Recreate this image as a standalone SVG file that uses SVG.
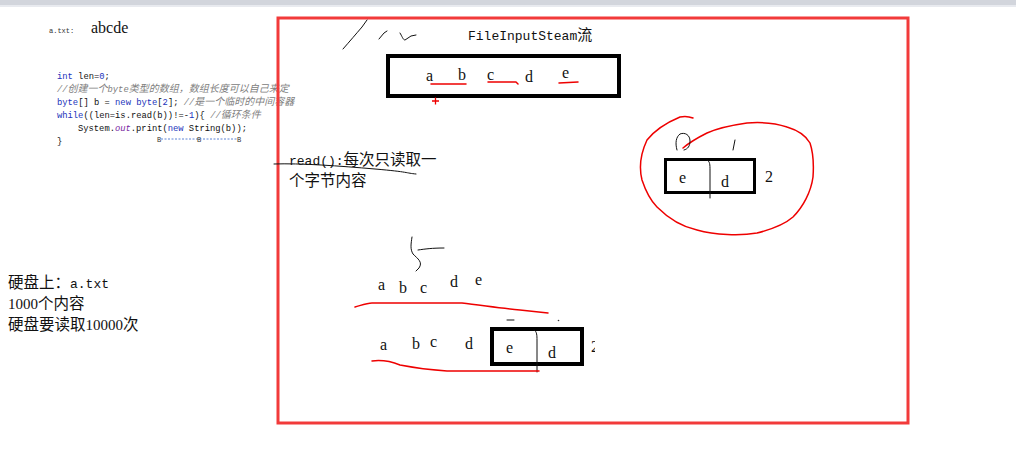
<svg xmlns="http://www.w3.org/2000/svg" width="1016" height="458" viewBox="0 0 1016 458">
<style>
.code{font-family:"Liberation Mono","Noto Sans CJK SC",monospace;font-size:8.8px;fill:#111}
.zh{font-family:"Noto Sans CJK SC",sans-serif;font-size:10px}
.kw{fill:#2233bb}
.cm{fill:#808080;font-style:italic}
.out{fill:#7a1fa2;font-style:italic}
.ser{font-family:"Liberation Serif","Noto Sans CJK SC",serif;font-size:16px;fill:#111}
.cjk{font-family:"Noto Sans CJK SC",sans-serif;font-size:15.5px;fill:#111}
.asc{font-family:"Liberation Mono",monospace;font-size:13px}
.dig{font-family:"Liberation Serif",serif;font-size:15px}
.pen{fill:none;stroke:#111;stroke-width:1;stroke-linecap:round;stroke-linejoin:round}
.red{fill:none;stroke:#e00;stroke-width:1.5;stroke-linecap:round;stroke-linejoin:round}
.box{fill:none;stroke:#000;stroke-width:4}
.bm{font-family:"Liberation Mono",monospace;font-size:7px;fill:#333}
</style>
<defs>
<clipPath id="cut"><rect x="0" y="0" width="595" height="458"/></clipPath>
</defs>
<rect x="0" y="0" width="1016" height="458" fill="#fff"/>
<rect x="0" y="0" width="1016" height="5" fill="#d2d5dc"/>
<rect x="0" y="5" width="1016" height="2" fill="#e8eaef"/>

<g id="code-panel">
<text x="49" y="33" class="bm" fill="#222">a.txt:</text>
<text x="91" y="33" class="ser">abcde</text>
<text class="code" x="57" y="79"><tspan class="kw">int</tspan> len=<tspan class="kw">0</tspan>;</text>
<text class="code cm" x="57" y="92">//<tspan class="zh">创建一个</tspan>byte<tspan class="zh">类型的数组，数组长度可以自己来定</tspan></text>
<text class="code" x="57" y="105"><tspan class="kw">byte</tspan>[] b = <tspan class="kw">new</tspan> <tspan class="kw">byte</tspan>[<tspan class="kw">2</tspan>];  <tspan class="cm">//<tspan class="zh">是一个临时的中间容器</tspan></tspan></text>
<text class="code" x="57" y="118"><tspan class="kw">while</tspan>((len=is.read(b))!=-<tspan class="kw">1</tspan>){  <tspan class="cm">//<tspan class="zh">循环条件</tspan></tspan></text>
<text class="code" x="78" y="131">System.<tspan class="out">out</tspan>.print(<tspan class="kw">new</tspan> String(b));</text>
<text class="code" x="57" y="144">}</text>
<g id="bline">
<line x1="161" y1="139" x2="238" y2="139" stroke="#3366cc" stroke-width="0.8" stroke-dasharray="2,1.5"/>
<text x="157" y="142" class="bm">B</text>
<text x="197" y="142" class="bm">B</text>
<text x="237" y="142" class="bm">B</text>
</g>
</g>

<g id="disk-note">
<text class="cjk" x="8" y="288">硬盘上：<tspan class="asc">a.txt</tspan></text>
<text class="cjk" x="8" y="309"><tspan class="dig">1000</tspan>个内容</text>
<text class="cjk" x="8" y="330">硬盘要读取<tspan class="dig">10000</tspan>次</text>
</g>

<g id="frame">
<rect x="278" y="18" width="630" height="405" fill="none" stroke="#f23a3a" stroke-width="3"/>
</g>

<g id="stream">
<text x="468" y="40" fill="#111"><tspan font-family="Liberation Mono,monospace" font-size="13">FileInputSteam</tspan><tspan font-family="Noto Sans CJK SC,sans-serif" font-size="15">流</tspan></text>
<rect class="box" x="388" y="56" width="231" height="40"/>
<text class="ser" x="426" y="81">a</text>
<text class="ser" x="458" y="80">b</text>
<text class="ser" x="487" y="80">c</text>
<text class="ser" x="525" y="82">d</text>
<text class="ser" x="562" y="78">e</text>
<path class="red" d="M431 84 L466 84"/>
<path class="red" d="M488 82 L516 82 L518 84"/>
<path class="red" d="M559 83 L578 82"/>
<path d="M432 101 H439 M435.5 97.5 V104.5" stroke="#e00" stroke-width="1.3"/>
</g>

<g id="read-note">
<text class="cjk" x="289" y="165"><tspan font-family="Liberation Mono,monospace" font-size="13">read():</tspan>每次只读取一</text>
<text class="cjk" x="289" y="186">个字节内容</text>
<path class="pen" d="M274 164 C300 163 340 166 375 169 S405 173 416 174"/>
</g>

<g id="buffer-circle">
<path class="red" d="M693 118 C688 116 684 116 680 117 C668 122 655 130 647 140 C640 155 639 168 642 180 C646 192 650 200 657 207 C670 220 683 227 697 230 C715 235 740 236 757 233 C773 229 785 224 793 217 C803 207 811 192 813 177 C814 163 813 152 810 143 C805 134 797 130 787 127 C775 123 760 122 747 123 C733 125 718 128 707 133 C697 138 690 142 683 148"/>
<path class="pen" d="M677 150 C675 143 676 137 680 134 C685 132 690 135 690 141 C690 146 688 149 684 150"/>
<path class="pen" d="M733 150 L735 140"/>
<rect x="665.5" y="159.5" width="89" height="33" fill="none" stroke="#000" stroke-width="3"/>
<path class="pen" d="M707 160 C710 161 710 165 710 170 L710 198"/>
<text class="ser" x="679" y="183">e</text>
<text class="ser" x="721" y="187">d</text>
<text class="ser" x="765" y="182">2</text>
</g>

<g id="row1">
<path class="pen" d="M412 237 C411 244 410 249 413 254 C418 259 423 262 419 268 L416 271 M418 250 C425 249 432 248 444 248"/>
<text class="ser" x="378" y="290">a</text>
<text class="ser" x="399" y="293">b</text>
<text class="ser" x="420" y="293">c</text>
<text class="ser" x="450" y="287">d</text>
<text class="ser" x="475" y="285">e</text>
<path class="red" d="M355 307 C362 305 367 303 372 303 L462 303 C480 305 500 308 520 310 L548 313"/>
</g>

<g id="row2">
<path class="pen" d="M507 320 L514 320"/>
<circle cx="558.5" cy="320.5" r="0.8" fill="#333"/>
<text class="ser" x="380" y="350">a</text>
<text class="ser" x="412" y="349">b</text>
<text class="ser" x="430" y="347">c</text>
<text class="ser" x="465" y="349">d</text>
<rect class="box" x="492" y="329" width="90" height="35"/>
<path class="pen" d="M534 330 C537 331 537 336 537 340 L537 372"/>
<text class="ser" x="506" y="353">e</text>
<text class="ser" x="548" y="358">d</text>
<text class="ser" x="591" y="352" clip-path="url(#cut)">2</text>
<path class="red" d="M372 361 C380 360 390 361 400 365 C415 368 430 370 447 371 L539 371"/>
</g>

<g id="scribbles">
<path class="pen" d="M343 49 C350 41 356 34 362 27 L367 20"/>
<path class="pen" d="M379 39 L384 33 L387 31"/>
<path class="pen" d="M400 33 C402 36 403 40 405 40 C407 39 409 37 411 36 L416 35"/>
</g>
</svg>
